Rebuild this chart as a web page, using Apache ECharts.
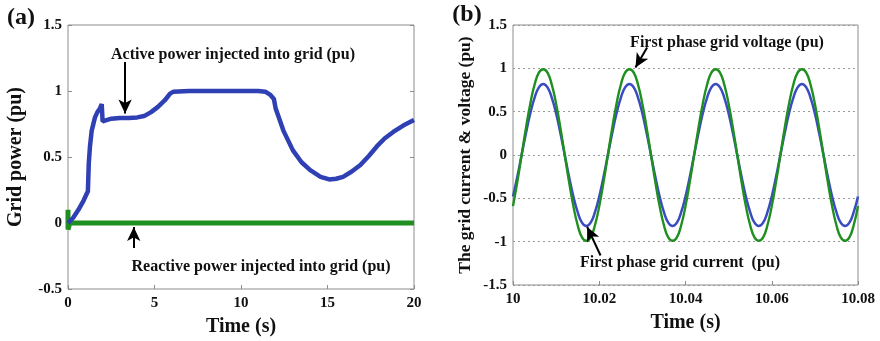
<!DOCTYPE html>
<html>
<head>
<meta charset="utf-8">
<script src="https://cdn.jsdelivr.net/npm/echarts@6/dist/echarts.min.js"></script>
<style>
  html, body { margin: 0; padding: 0; background: #fff; }
  #chart { width: 880px; height: 341px; }
</style>
</head>
<body>
<div id="chart"></div>
<script>
// (a) grid power vs time (s)
const activeTime = [0, 0.3, 0.6, 0.9, 1.15, 1.2, 1.27, 1.37, 1.56, 1.7, 1.85, 1.95, 2.0, 2.1, 2.5, 3.0, 3.5, 4.0, 4.4, 4.8, 5.2, 5.6, 5.9, 6.1, 7, 8, 9, 10, 11, 11.4, 11.7, 11.9, 12.0, 12.45, 13.0, 13.5, 14.0, 14.6, 15.1, 15.5, 15.9, 16.4, 16.9, 17.4, 17.85, 18.3, 18.8, 19.4, 20];
const activePower = [0, 0.04, 0.1, 0.17, 0.24, 0.45, 0.58, 0.7, 0.8, 0.84, 0.87, 0.9, 0.77, 0.785, 0.79, 0.795, 0.795, 0.8, 0.81, 0.84, 0.88, 0.93, 0.98, 0.995, 1.0, 1.0, 1.0, 1.0, 1.0, 0.995, 0.97, 0.94, 0.87, 0.7, 0.55, 0.46, 0.4, 0.35, 0.33, 0.335, 0.35, 0.39, 0.44, 0.51, 0.58, 0.64, 0.69, 0.74, 0.78];
const reactiveTime = [0, 0, 0.1, 20];
const reactivePower = [0.1, -0.05, 0, 0];

// (b) first phase grid current & voltage, 10 .. 10.08 s
const phaseTime = [
  10.000, 10.001, 10.002, 10.003, 10.004, 10.005, 10.006, 10.007, 10.008, 10.009,
  10.010, 10.011, 10.012, 10.013, 10.014, 10.015, 10.016, 10.017, 10.018, 10.019,
  10.020, 10.021, 10.022, 10.023, 10.024, 10.025, 10.026, 10.027, 10.028, 10.029,
  10.030, 10.031, 10.032, 10.033, 10.034, 10.035, 10.036, 10.037, 10.038, 10.039,
  10.040, 10.041, 10.042, 10.043, 10.044, 10.045, 10.046, 10.047, 10.048, 10.049,
  10.050, 10.051, 10.052, 10.053, 10.054, 10.055, 10.056, 10.057, 10.058, 10.059,
  10.060, 10.061, 10.062, 10.063, 10.064, 10.065, 10.066, 10.067, 10.068, 10.069,
  10.070, 10.071, 10.072, 10.073, 10.074, 10.075, 10.076, 10.077, 10.078, 10.079,
  10.080
];
const gridVoltage = [
  -0.59, -0.31, 0, 0.31, 0.59, 0.81, 0.95, 0.99, 0.95, 0.81,
  0.59, 0.31, 0, -0.31, -0.59, -0.81, -0.95, -0.99, -0.95, -0.81,
  -0.59, -0.31, 0, 0.31, 0.59, 0.81, 0.95, 0.99, 0.95, 0.81,
  0.59, 0.31, 0, -0.31, -0.59, -0.81, -0.95, -0.99, -0.95, -0.81,
  -0.59, -0.31, 0, 0.31, 0.59, 0.81, 0.95, 0.99, 0.95, 0.81,
  0.59, 0.31, 0, -0.31, -0.59, -0.81, -0.95, -0.99, -0.95, -0.81,
  -0.59, -0.31, 0, 0.31, 0.59, 0.81, 0.95, 0.99, 0.95, 0.81,
  0.59, 0.31, 0, -0.31, -0.59, -0.81, -0.95, -0.99, -0.95, -0.81,
  -0.59
];
const gridCurrent = [
  -0.48, -0.25, 0, 0.25, 0.48, 0.66, 0.78, 0.82, 0.78, 0.66,
  0.48, 0.25, 0, -0.25, -0.48, -0.66, -0.78, -0.82, -0.78, -0.66,
  -0.48, -0.25, 0, 0.25, 0.48, 0.66, 0.78, 0.82, 0.78, 0.66,
  0.48, 0.25, 0, -0.25, -0.48, -0.66, -0.78, -0.82, -0.78, -0.66,
  -0.48, -0.25, 0, 0.25, 0.48, 0.66, 0.78, 0.82, 0.78, 0.66,
  0.48, 0.25, 0, -0.25, -0.48, -0.66, -0.78, -0.82, -0.78, -0.66,
  -0.48, -0.25, 0, 0.25, 0.48, 0.66, 0.78, 0.82, 0.78, 0.66,
  0.48, 0.25, 0, -0.25, -0.48, -0.66, -0.78, -0.82, -0.78, -0.66,
  -0.48
];

const FONT = '"Liberation Serif", "Times New Roman", serif';
const BLUE = "#2f40b4";
const GREEN = "#1f8f1f";

function zip(xs, ys) {
  return xs.map((x, i) => [x, ys[i]]);
}

function arrow(from, to) {
  return {
    silent: true,
    symbol: ["none", "arrow"],
    symbolSize: [10, 14],
    lineStyle: { color: "#000", width: 2, type: "solid" },
    label: { show: false },
    data: [[{ coord: from }, { coord: to }]],
  };
}

const tickLabel = { color: "#111", fontFamily: FONT, fontWeight: "bold", fontSize: 15 };
const axisName = { color: "#111", fontFamily: FONT, fontWeight: "bold" };
const noteStyle = { fill: "#111", font: `bold 16px ${FONT}`, align: "center", verticalAlign: "middle" };
const frameTick = { inside: true, length: 4, lineStyle: { color: "#8c8c8c" } };

const chart = echarts.init(document.getElementById("chart"));
chart.setOption({
  animation: false,
  backgroundColor: "#fff",
  grid: [
    { left: 68, right: 466, top: 25, bottom: 52, outerBoundsMode: "none", show: true, borderColor: "#8c8c8c", borderWidth: 1 },
    { left: 513, right: 22, top: 25, bottom: 56, outerBoundsMode: "none", show: true, borderColor: "#8c8c8c", borderWidth: 1 },
  ],
  xAxis: [
    {
      gridIndex: 0, type: "value", min: 0, max: 20, interval: 5,
      name: "Time (s)", nameLocation: "middle", nameGap: 28,
      nameTextStyle: { ...axisName, fontSize: 20 },
      axisLine: { show: false, onZero: false },
      axisTick: frameTick,
      axisLabel: { ...tickLabel, margin: 7 },
      splitLine: { show: false },
    },
    {
      gridIndex: 1, type: "value", min: 10, max: 10.08, interval: 0.02,
      name: "Time (s)", nameLocation: "middle", nameGap: 28,
      nameTextStyle: { ...axisName, fontSize: 20 },
      axisLine: { show: false, onZero: false },
      axisTick: frameTick,
      axisLabel: { ...tickLabel, margin: 7, formatter: (v) => (Math.abs(v - 10) < 1e-9 ? "10" : v.toFixed(2)) },
      splitLine: { show: false },
    },
  ],
  yAxis: [
    {
      gridIndex: 0, type: "value", min: -0.5, max: 1.5, interval: 0.5,
      name: "Grid power (pu)", nameLocation: "middle", nameGap: 42,
      nameTextStyle: { ...axisName, fontSize: 20 },
      axisLine: { show: false, onZero: false },
      axisTick: frameTick,
      axisLabel: { ...tickLabel, margin: 6 },
      splitLine: { show: false },
    },
    {
      gridIndex: 1, type: "value", min: -1.5, max: 1.5, interval: 0.5,
      name: "The grid current & voltage (pu)", nameLocation: "middle", nameGap: 39,
      nameTextStyle: { ...axisName, fontSize: 17.5 },
      axisLine: { show: false, onZero: false },
      axisTick: { show: false },
      axisLabel: { ...tickLabel, margin: 6 },
      splitLine: { show: true, lineStyle: { color: "#9a9a9a", type: [2, 3], width: 1 } },
    },
    {
      gridIndex: 0, type: "value", min: -0.5, max: 1.5, interval: 0.5, position: "right",
      axisLine: { show: false, onZero: false },
      axisTick: frameTick,
      axisLabel: { show: false },
      splitLine: { show: false },
    },
  ],
  series: [
    {
      name: "Reactive power", type: "line", xAxisIndex: 0, yAxisIndex: 0,
      data: zip(reactiveTime, reactivePower), showSymbol: false,
      lineStyle: { color: GREEN, width: 5 },
      markLine: arrow([3.8, -0.19], [3.8, -0.03]),
    },
    {
      name: "Active power", type: "line", xAxisIndex: 0, yAxisIndex: 0,
      data: zip(activeTime, activePower), showSymbol: false,
      lineStyle: { color: BLUE, width: 4.5 },
      markLine: arrow([3.3, 1.22], [3.3, 0.83]),
    },
    {
      name: "Grid current", type: "line", xAxisIndex: 1, yAxisIndex: 1,
      data: zip(phaseTime, gridCurrent), showSymbol: false, smooth: true,
      lineStyle: { color: "#3a4cc0", width: 2.5 },
      markLine: arrow([10.0203, -1.16], [10.0172, -0.83]),
    },
    {
      name: "Grid voltage", type: "line", xAxisIndex: 1, yAxisIndex: 1,
      data: zip(phaseTime, gridVoltage), showSymbol: false, smooth: true,
      lineStyle: { color: GREEN, width: 2.4 },
      markLine: arrow([10.0311, 1.24], [10.0284, 1.01]),
    },
  ],
  graphic: [
    { type: "text", x: 21, y: 18, silent: true, style: { ...noteStyle, text: "(a)", font: `bold 24px ${FONT}` } },
    { type: "text", x: 467, y: 15, silent: true, style: { ...noteStyle, text: "(b)", font: `bold 24px ${FONT}` } },
    { type: "text", x: 233, y: 55, silent: true, style: { ...noteStyle, text: "Active power injected into grid (pu)" } },
    { type: "text", x: 261, y: 267, silent: true, style: { ...noteStyle, text: "Reactive power injected into grid (pu)" } },
    { type: "text", x: 727, y: 43, silent: true, style: { ...noteStyle, text: "First phase grid voltage (pu)" } },
    { type: "text", x: 680, y: 263, silent: true, style: { ...noteStyle, text: "First phase grid current  (pu)", whiteSpace: "pre" } },
  ],
});
</script>
</body>
</html>
